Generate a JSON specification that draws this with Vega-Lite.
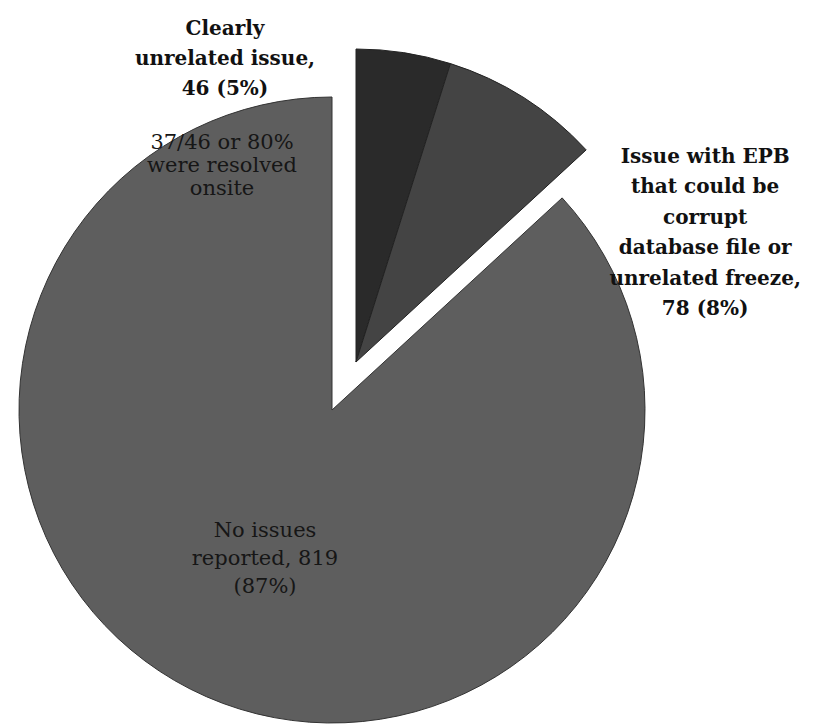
{
  "$schema": "https://vega.github.io/schema/vega-lite/v6.json",
  "width": 664,
  "height": 634,
  "autosize": "none",
  "padding": {"left": 0, "top": 93, "right": 151, "bottom": 0},
  "background": "white",
  "config": {"view": {"stroke": null}},
  "data": {
    "values": [
      {"category": "Clearly unrelated issue", "value": 46, "label": "Clearly\nunrelated issue,\n46 (5%)", "note": "37/46 or 80%\nwere resolved\nonsite"},
      {"category": "Issue with EPB", "value": 78, "label": "Issue with EPB\nthat could be\ncorrupt\ndatabase file or\nunrelated freeze,\n78 (8%)"},
      {"category": "No issues reported", "value": 819, "label": "No issues\nreported, 819\n(87%)"}
    ]
  },
  "transform": [
    {"stack": "value", "groupby": [], "sort": [{"field": "value", "order": "ascending"}], "as": ["v0", "v1"]}
  ],
  "layer": [
    {
      "transform": [{"filter": "datum.category === 'No issues reported'"}],
      "mark": {"type": "arc", "outerRadius": 313, "stroke": "#333333", "strokeWidth": 1},
      "encoding": {
        "theta": {"field": "v0", "type": "quantitative", "scale": {"domain": [0, 943]}},
        "theta2": {"field": "v1"},
        "color": {"field": "category", "type": "nominal", "legend": null,
          "scale": {"domain": ["Clearly unrelated issue", "Issue with EPB", "No issues reported"], "range": ["#2a2a2a", "#444444", "#5e5e5e"]}}
      }
    },
    {
      "transform": [{"filter": "datum.category !== 'No issues reported'"}],
      "mark": {"type": "arc", "outerRadius": 313, "xOffset": 24, "yOffset": -48, "stroke": "#222222", "strokeWidth": 1},
      "encoding": {
        "theta": {"field": "v0", "type": "quantitative", "scale": {"domain": [0, 943]}},
        "theta2": {"field": "v1"},
        "color": {"field": "category", "type": "nominal", "legend": null,
          "scale": {"domain": ["Clearly unrelated issue", "Issue with EPB", "No issues reported"], "range": ["#2a2a2a", "#444444", "#5e5e5e"]}}
      }
    },
    {
      "transform": [{"filter": "datum.category === 'Clearly unrelated issue'"}],
      "mark": {"type": "text", "radius": 352, "dx": -107, "dy": -29, "align": "center", "baseline": "middle", "lineBreak": "\n",
        "font": "DejaVu Serif", "fontSize": 20, "fontWeight": "bold", "lineHeight": 30, "color": "#111111"},
      "encoding": {
        "theta": {"field": "v0", "type": "quantitative", "scale": {"domain": [0, 943]}},
        "text": {"field": "label"}
      }
    },
    {
      "transform": [{"filter": "datum.category === 'Clearly unrelated issue'"}],
      "mark": {"type": "text", "radius": 247, "dx": -110, "dy": -20, "align": "center", "baseline": "middle", "lineBreak": "\n",
        "font": "DejaVu Serif", "fontSize": 21, "lineHeight": 23, "color": "#161616"},
      "encoding": {
        "theta": {"field": "v0", "type": "quantitative", "scale": {"domain": [0, 943]}},
        "text": {"field": "note"}
      }
    },
    {
      "transform": [{"filter": "datum.category === 'Issue with EPB'"}],
      "mark": {"type": "text", "radius": 400, "dx": 79, "dy": 18, "align": "center", "baseline": "middle", "lineBreak": "\n",
        "font": "DejaVu Serif", "fontSize": 20, "fontWeight": "bold", "lineHeight": 30.4, "color": "#111111"},
      "encoding": {
        "theta": {"field": "v1", "type": "quantitative", "scale": {"domain": [0, 943]}},
        "text": {"field": "label"}
      }
    },
    {
      "transform": [{"filter": "datum.category === 'No issues reported'"}],
      "mark": {"type": "text", "radius": 0, "dx": -67, "dy": 121, "align": "center", "baseline": "middle", "lineBreak": "\n",
        "font": "DejaVu Serif", "fontSize": 21, "lineHeight": 28, "color": "#161616"},
      "encoding": {
        "theta": {"field": "v0", "type": "quantitative", "scale": {"domain": [0, 943]}},
        "text": {"field": "label"}
      }
    }
  ]
}
